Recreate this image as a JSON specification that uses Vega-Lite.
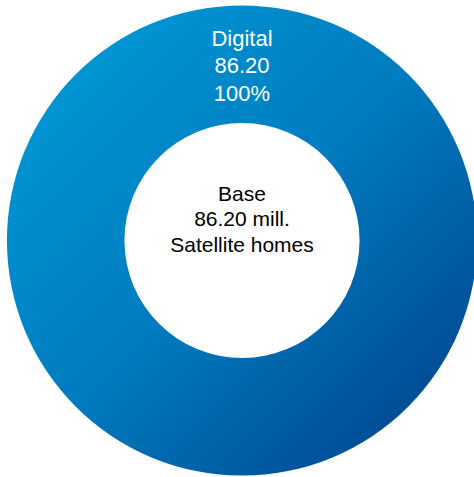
{
  "$schema": "https://vega.github.io/schema/vega-lite/v6.json",
  "width": 474,
  "height": 477,
  "autosize": {"type": "fit", "contains": "padding"},
  "padding": {"left": 10, "right": 0, "top": 4, "bottom": 0},
  "background": "white",
  "config": {"view": {"stroke": null}},
  "data": {"values": [
    {"segment": "Digital", "value": 86.2, "label": "Digital\n86.20\n100%", "center": "Base\n86.20 mill.\nSatellite homes"}
  ]},
  "encoding": {
    "theta": {"field": "value", "type": "quantitative", "stack": true, "scale": {"range": [{"signal": "PI"}, {"signal": "3*PI"}]}}
  },
  "layer": [
    {
      "mark": {
        "type": "arc",
        "innerRadius": 117.5,
        "outerRadius": 235,
        "color": {"gradient": "linear", "x1": 0, "y1": 0, "x2": 1, "y2": 1,
          "stops": [{"offset": 0, "color": "#009fdb"}, {"offset": 0.5, "color": "#007bbf"}, {"offset": 1, "color": "#003c86"}]}
      }
    },
    {
      "mark": {"type": "text", "radius": 202, "font": "Liberation Sans", "fontSize": 22, "lineHeight": 27.5, "lineBreak": "\n", "color": "white", "align": "center", "baseline": "middle"},
      "encoding": {"text": {"field": "label"}}
    },
    {
      "mark": {"type": "text", "radius": 46, "font": "Liberation Sans", "fontSize": 21, "lineHeight": 25.5, "lineBreak": "\n", "color": "black", "align": "center", "baseline": "middle"},
      "encoding": {"text": {"field": "center"}}
    }
  ]
}
